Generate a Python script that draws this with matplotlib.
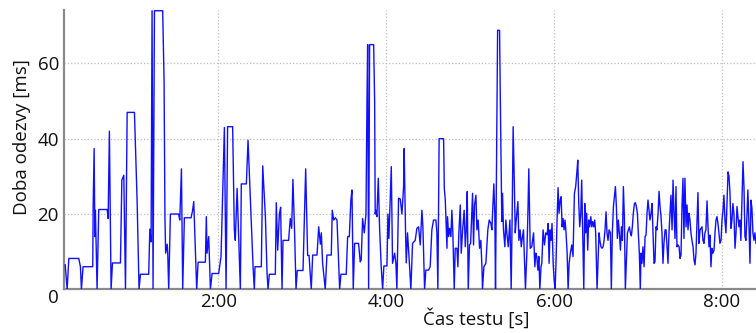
import matplotlib.pyplot as plt
from matplotlib.ticker import FuncFormatter

# time of the test [s] and response time [ms]
time_s = [
    10.5, 11.9, 13.1, 20.2, 21.4, 22.1, 23.3, 30.2, 30.5, 31.2, 31.7, 32.1, 33.3, 34.5, 40.5, 41.2,
    42.1, 43.3, 44.3, 50.0, 51.0, 52.4, 53.6, 54.8, 60.0, 61.9, 63.3, 64.3, 70.2, 71.0, 71.9, 72.6,
    73.3, 74.3, 80.2, 81.2, 81.8, 82.3, 83.4, 83.8, 84.5, 85.7, 91.6, 92.4, 93.6, 94.5, 95.7, 100.5,
    101.6, 102.4, 104.5, 105.5, 110.7, 111.4, 111.9, 113.1, 114.3, 115.5, 120.2, 121.9, 124.3, 125.5,
    126.6, 130.2, 131.4, 132.1, 133.4, 135.7, 136.4, 140.0, 141.2, 143.5, 144.8, 145.7, 146.2, 150.7,
    151.7, 153.6, 154.8, 155.5, 156.4, 160.7, 161.4, 162.4, 163.6, 164.5, 165.5, 166.2, 170.2, 171.4,
    172.4, 173.3, 174.5, 175.5, 176.4, 180.5, 182.4, 183.8, 184.8, 186.4, 187.4, 190.5, 191.7, 192.9,
    193.6, 194.5, 196.4, 197.6, 200.7, 201.4, 202.4, 203.6, 204.8, 206.7, 207.6, 211.4, 212.4, 213.6,
    214.7, 215.5, 216.4, 217.4, 220.2, 221.4, 222.1, 223.1, 224.3, 225.5, 226.2, 226.7, 227.4, 228.1,
    231.0, 231.7, 232.1, 232.6, 233.3, 234.3, 235.2, 236.4, 237.4, 238.3, 240.5, 241.2, 241.9, 242.8,
    243.6, 244.5, 246.0, 246.9, 247.6, 248.8, 250.0, 251.2, 252.4, 252.8, 253.8, 254.3, 255.2, 256.4,
    257.6, 258.8, 260.7, 261.9, 263.1, 264.3, 265.5, 266.2, 267.4, 268.3, 270.2, 271.4, 272.6, 273.8,
    275.5, 276.2, 276.9, 277.8, 281.0, 281.5, 282.2, 282.9, 283.4, 283.8, 284.6, 285.3, 286.2, 286.9,
    287.6, 288.6, 289.3, 290.5, 291.2, 291.9, 292.9, 293.6, 294.6, 295.7, 296.5, 297.2, 297.9, 298.6,
    299.5, 300.3, 301.2, 301.7, 302.4, 303.1, 304.1, 304.8, 305.7, 306.7, 307.6, 308.4, 308.8, 309.8,
    311.2, 312.6, 313.6, 314.8, 315.5, 316.2, 316.9, 317.6, 318.1, 319.1, 319.6, 321.0, 321.5, 322.2,
    322.6, 323.1, 323.8, 324.8, 325.5, 326.2, 327.2, 328.4, 329.3, 330.0, 330.7, 331.5, 332.2, 332.9,
    334.1, 334.8, 335.7, 336.5, 337.2, 338.1, 339.5, 340.5, 341.2, 341.9, 342.9, 344.0, 345.3, 346.2,
    346.9, 347.6, 348.4, 349.1, 349.8, 350.6, 351.2, 352.1, 353.1, 354.0, 355.0, 355.7, 356.4, 357.1,
    357.8, 358.5, 359.3, 360.0, 360.7, 361.4, 362.1, 362.8, 363.5, 364.3, 365.0, 365.7, 366.4, 367.1,
    367.8, 368.5, 369.3, 370.0, 370.7, 371.6, 372.6, 373.5, 374.5, 375.4, 376.2, 376.9, 377.6, 378.3,
    379.0, 379.7, 380.4, 381.2, 381.9, 382.6, 383.3, 384.0, 384.7, 385.4, 386.2, 386.9, 387.6, 388.3,
    389.0, 389.7, 390.7, 391.4, 392.1, 392.8, 393.5, 394.3, 395.0, 395.7, 396.4, 397.1, 397.8, 398.5,
    399.3, 400.2, 400.9, 401.6, 402.4, 403.1, 403.8, 404.5, 405.2, 405.9, 406.6, 407.4, 408.1, 408.8,
    409.5, 410.2, 410.9, 411.6, 412.4, 413.1, 413.8, 414.5, 415.2, 415.9, 416.6, 417.4, 418.1, 418.8,
    419.5, 420.2, 420.9, 421.6, 422.1, 422.8, 423.5, 424.3, 425.0, 425.7, 426.4, 427.1, 427.8, 428.5,
    429.3, 430.0, 430.7, 431.4, 432.1, 432.8, 433.5, 434.3, 435.0, 435.7, 436.4, 437.1, 437.8, 438.5,
    439.3, 440.0, 440.7, 441.4, 442.1, 442.8, 443.5, 444.3, 445.0, 445.7, 446.4, 447.1, 447.8, 448.5,
    449.3, 450.0, 450.7, 451.4, 452.1, 452.8, 453.5, 454.3, 455.0, 455.7, 456.4, 457.1, 457.8, 458.5,
    459.3, 460.0, 460.7, 461.4, 462.1, 462.8, 463.5, 464.3, 465.0, 465.7, 466.4, 467.1, 467.8, 468.5,
    469.3, 470.0, 470.7, 471.4, 472.1, 472.8, 473.5, 474.3, 475.0, 475.7, 476.4, 477.1, 477.8, 478.5,
    479.3, 480.0, 480.7, 481.4, 482.1, 482.8, 483.5, 484.3, 485.0, 485.7, 486.4, 487.1, 487.8, 488.5,
    489.3, 490.0, 490.7, 491.4, 492.1, 492.8, 493.5, 494.3, 495.0, 495.7, 496.4, 497.1, 497.8, 498.5,
    499.3, 500.0, 500.7, 501.4, 502.1, 502.8, 503.5, 504.3,
]
resp_ms = [
    6.5, 0, 8.2, 8.2, 6, 0, 6, 6, 22, 37.4, 14, 21, 0, 21.2, 21.2, 18.8,
    42, 0, 7, 7, 29, 30.3, 0, 47, 47, 23.7, 0, 4, 4, 16, 12.6, 74,
    0, 74, 74, 55, 19.3, 9.6, 12, 9.6, 0, 20, 20, 18.4, 32, 0, 19, 19,
    21, 23.3, 0, 7.2, 7.2, 19.3, 9.6, 14, 0, 4.2, 4.2, 8.7, 43, 0,
    43.2, 43.2, 15.8, 13, 26.8, 0, 28, 28, 39.6, 18, 6, 0, 6, 6,
    32.8, 19.3, 4.2, 0, 4, 4, 23, 10.4, 20, 21.8, 0, 13, 13, 18.8,
    16.2, 29.2, 14.9, 0, 5, 5, 32, 9, 9, 0, 9.1, 9.1, 16.6, 12,
    15, 7, 0, 9.1, 9.1, 21, 18.4, 19, 18.4, 0, 4, 4, 14, 14,
    23.7, 26.4, 0, 12.2, 12.2, 7.3, 7.8, 18.8, 15, 20, 49, 65, 0, 65,
    65, 50, 20, 21, 19.3, 29.5, 16.6, 6, 0, 6.2, 6.2, 20, 13.5, 23.7,
    32.6, 6.9, 9.6, 6.9, 0, 24.2, 24, 20, 27.3, 37.4, 15, 7, 15, 7.8,
    0, 12.2, 13, 16.2, 16.6, 11.8, 21, 16.6, 0, 5.1, 5.1, 6, 15.8, 18.4,
    18.4, 15, 0, 40, 40, 26.8, 23.7, 15.8, 10.9, 19.3, 14, 16.2, 14, 21,
    15, 0, 10.9, 10.9, 6, 15, 22.4, 9.6, 15.8, 21, 11.3, 15.8, 26, 0,
    11.8, 12.2, 20.6, 25.5, 11.8, 22.4, 25, 15.8, 18.4, 10.9, 13, 6, 0, 6,
    6.9, 15.8, 18.4, 17.5, 15.8, 22, 28, 20.2, 0, 45.8, 68.8, 68.8, 51.6, 30.8,
    18, 25.5, 15.8, 11.3, 18.4, 15, 11.3, 18.4, 0, 19.3, 43.2, 29, 15, 18.4,
    23.3, 13, 15.8, 11.3, 13.5, 15.8, 0, 9.6, 19.3, 32, 10.9, 11.3, 15, 6,
    9.6, 8.7, 5.1, 8.7, 0, 6, 6.9, 15.8, 11.8, 15, 14.5, 17.5, 6.9, 15.8,
    13, 17.5, 6.9, 2.5, 0, 7.8, 18.4, 27, 20.2, 23.7, 24.6, 16.6, 18.8, 15.8,
    18.4, 15, 9.6, 0, 6.9, 9.6, 11.8, 8.7, 25.5, 27.3, 30.8, 34.3, 22.8, 16.6,
    19.7, 29, 15, 0, 22.8, 15, 20.2, 10.4, 18.4, 16.6, 19.3, 16.6, 18, 16.6,
    18.4, 15, 0, 7.8, 15, 12.7, 11.3, 10.9, 11.3, 13, 15.8, 20.6, 15, 13,
    15.8, 15, 0, 15, 22, 24.6, 27.3, 22, 13.5, 18.4, 15, 10.4, 16.6, 13,
    27.3, 19.3, 0, 6.9, 15, 15.8, 16.6, 15, 14.2, 16.6, 20.2, 22.8, 23, 22,
    20.2, 15, 9.6, 0, 9.6, 6.9, 11.3, 6, 14, 14.4, 20.2, 23.7, 21, 18.4,
    20.2, 22.8, 15, 6.9, 7.3, 16.6, 15.8, 20.2, 26, 22, 19.3, 15, 6.9, 12.2,
    15.8, 15.8, 11.3, 6.9, 15, 20.2, 25, 15.8, 29, 20.2, 13.5, 27.3, 11.3, 11.8,
    11.3, 8.2, 9.1, 22, 29.5, 13.5, 29.5, 16.6, 22.4, 15.8, 20.2, 18.4, 15, 13,
    11.3, 7.8, 6.5, 9.6, 17.5, 25.7, 12.2, 15.8, 16.2, 16.6, 13, 12.2, 15, 15.8,
    23.5, 16.6, 11.3, 14.4, 6, 10.9, 9.6, 10.4, 15, 18.4, 19.3, 17.5, 15, 12.2,
    13, 18.4, 21, 25, 18.4, 15, 22, 31.2, 30, 25.5, 16.2, 18.4, 22.8, 20.2,
    10.9, 15, 22, 19.3, 16.6, 18.4, 13, 24.6, 33.9, 27.3, 14, 13, 19.3, 26.4,
    16.6, 6.9, 23.7, 21.5, 15, 13, 15, 12.2,
]
x_ticks = [120, 240, 360, 480]
y_ticks = [0, 20, 40, 60]

plt.rcParams['font.family'] = ['Open Sans', 'DejaVu Sans']

fig = plt.figure(figsize=(7.56, 3.33), dpi=100)
ax = fig.add_axes([0.0853, 0.1312, 0.9147, 0.8388])

ax.plot(time_s, resp_ms, color='#1010ff', linewidth=1.0, zorder=3)

ax.set_xlim(10, 504.3)
ax.set_ylim(0, 74.2)
ax.set_xticks(x_ticks)
ax.set_yticks(y_ticks)
ax.xaxis.set_major_formatter(FuncFormatter(lambda v, p: f'{int(v)//60}:{int(v)%60:02d}'))
ax.tick_params(length=0, labelsize=13.5, colors='#111111')
ax.tick_params(axis='y', pad=4)
ax.tick_params(axis='x', pad=3)
ax.yaxis.get_major_ticks()[0].label1.set_verticalalignment('top')
ax.grid(True, linestyle=':', color='#bdbdbd', linewidth=0.9, zorder=0)

for s in ['top', 'right']:
    ax.spines[s].set_visible(False)
for s in ['left', 'bottom']:
    ax.spines[s].set_color('#8a8a8a'); ax.spines[s].set_linewidth(1.6)

ax.set_xlabel('Čas testu [s]', fontsize=13.5, color='#111111', va='center')
ax.xaxis.set_label_coords(0.595, -0.106)
ax.set_ylabel('Doba odezvy [ms]', fontsize=13.5, color='#111111', va='center')
ax.yaxis.set_label_coords(-0.061, 0.545)

plt.savefig('out.png', dpi=100)
